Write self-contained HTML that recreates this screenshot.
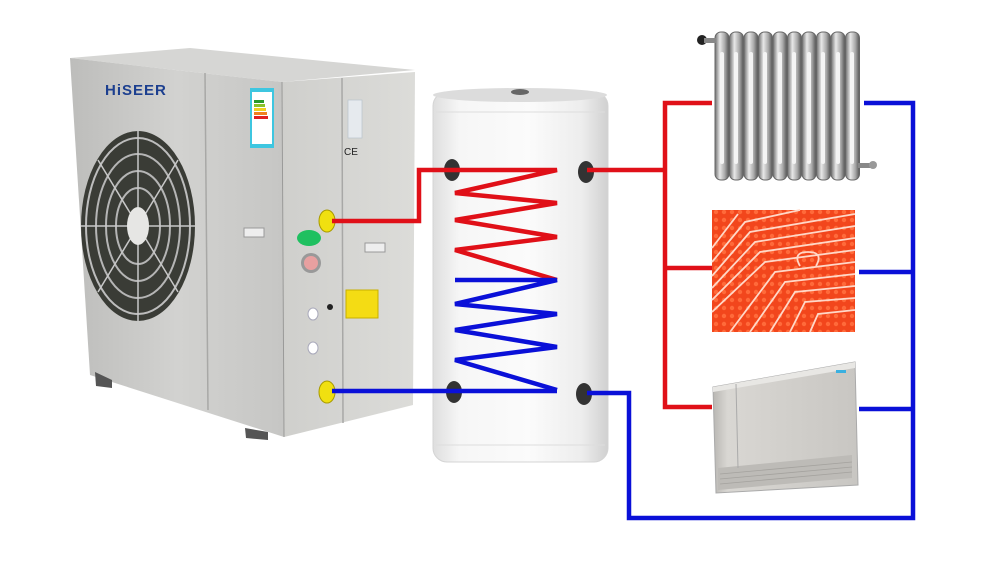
<!DOCTYPE html>
<html><head><meta charset="utf-8"><style>
html,body{margin:0;padding:0;background:#fff;width:1000px;height:570px;overflow:hidden}
svg{display:block}
</style></head><body>
<svg width="1000" height="570" viewBox="0 0 1000 570" xmlns="http://www.w3.org/2000/svg">
<defs>
<linearGradient id="front" x1="0" y1="0" x2="1" y2="0"><stop offset="0" stop-color="#bdbdbb"/><stop offset="0.5" stop-color="#d2d2d0"/><stop offset="1" stop-color="#c6c6c4"/></linearGradient>
<linearGradient id="side" x1="0" y1="0" x2="1" y2="0"><stop offset="0" stop-color="#cfcfcc"/><stop offset="1" stop-color="#dcdcd9"/></linearGradient>
<linearGradient id="tank" x1="0" y1="0" x2="1" y2="0"><stop offset="0" stop-color="#dedede"/><stop offset="0.15" stop-color="#f6f6f6"/><stop offset="0.55" stop-color="#fbfbfb"/><stop offset="0.85" stop-color="#ededed"/><stop offset="1" stop-color="#d0d0d0"/></linearGradient>
<linearGradient id="fin" x1="0" y1="0" x2="1" y2="0"><stop offset="0" stop-color="#6e6e6e"/><stop offset="0.35" stop-color="#e8e8e8"/><stop offset="0.7" stop-color="#a9a9a9"/><stop offset="1" stop-color="#555"/></linearGradient>
<linearGradient id="fc" x1="0" y1="0" x2="1" y2="0"><stop offset="0" stop-color="#b8b6b2"/><stop offset="0.1" stop-color="#d9d7d3"/><stop offset="1" stop-color="#c8c6c2"/></linearGradient>
<pattern id="floor" width="8" height="8" patternUnits="userSpaceOnUse"><rect width="8" height="8" fill="#f2461c"/><circle cx="4" cy="4" r="2.2" fill="#ff6a3a"/></pattern>
</defs>

<!-- Heat pump unit -->
<polygon points="70,58 190,48 415,70 282,82" fill="#d6d6d4"/>
<polygon points="70,58 282,82 284,437 90,375" fill="url(#front)"/>
<polygon points="282,82 415,72 413,405 284,437" fill="url(#side)"/>
<line x1="205" y1="73" x2="208" y2="410" stroke="#a8a8a6" stroke-width="1.5"/>
<line x1="342" y1="78" x2="343" y2="423" stroke="#a8a8a6" stroke-width="1.5"/>
<line x1="282" y1="82" x2="284" y2="437" stroke="#9a9a98" stroke-width="1"/>
<polygon points="95,372 112,380 112,388 96,386" fill="#555"/>
<polygon points="245,428 268,432 268,440 246,438" fill="#555"/>
<text x="105" y="95" font-family="Liberation Sans, sans-serif" font-weight="bold" font-size="15" fill="#1c3f8f" letter-spacing="1">HiSEER</text>
<rect x="250" y="88" width="24" height="60" fill="#3ec6e0"/>
<rect x="252" y="92" width="20" height="52" fill="#fff"/>
<rect x="254" y="100" width="10" height="3" fill="#2a9a2a"/><rect x="254" y="104" width="11" height="3" fill="#8ac22a"/><rect x="254" y="108" width="12" height="3" fill="#f0d020"/><rect x="254" y="112" width="13" height="3" fill="#f08020"/><rect x="254" y="116" width="14" height="3" fill="#e02020"/>
<rect x="348" y="100" width="14" height="38" fill="#e6eaee" stroke="#b8c4cc" stroke-width="0.7"/>
<text x="344" y="155" font-family="Liberation Sans, sans-serif" font-size="10" fill="#222">CE</text>
<!-- fan -->
<ellipse cx="138" cy="226" rx="57" ry="95" fill="#3a3c36"/>
<ellipse cx="138" cy="226" rx="52" ry="88" fill="none" stroke="#bdbdbd" stroke-width="2"/>
<ellipse cx="138" cy="226" rx="42" ry="72" fill="none" stroke="#b5b5b5" stroke-width="2"/>
<ellipse cx="138" cy="226" rx="32" ry="55" fill="none" stroke="#b5b5b5" stroke-width="2"/>
<ellipse cx="138" cy="226" rx="22" ry="38" fill="none" stroke="#b5b5b5" stroke-width="2"/>
<g stroke="#c8c8c8" stroke-width="1.5"><line x1="138" y1="131" x2="138" y2="321"/><line x1="81" y1="226" x2="195" y2="226"/><line x1="98" y1="160" x2="178" y2="292"/><line x1="178" y1="160" x2="98" y2="292"/></g>
<ellipse cx="138" cy="226" rx="11" ry="19" fill="#e6e6e4"/>
<rect x="244" y="228" width="20" height="9" fill="#eee" stroke="#999" stroke-width="1"/>
<rect x="365" y="243" width="20" height="9" fill="#eee" stroke="#999" stroke-width="1"/>
<!-- fittings -->
<ellipse cx="309" cy="238" rx="12" ry="8" fill="#1fc060"/>
<circle cx="311" cy="263" r="10" fill="#999"/><circle cx="311" cy="263" r="7" fill="#e8a0a0"/>
<ellipse cx="313" cy="314" rx="5" ry="6" fill="#fff" stroke="#aab" stroke-width="1"/>
<ellipse cx="313" cy="348" rx="5" ry="6" fill="#fff" stroke="#aab" stroke-width="1"/>
<circle cx="330" cy="307" r="3" fill="#222"/>
<rect x="346" y="290" width="32" height="28" fill="#f4dc14" stroke="#c8b000"/>
<ellipse cx="327" cy="221" rx="8" ry="11" fill="#f0e010" stroke="#a89a00"/>
<ellipse cx="327" cy="392" rx="8" ry="11" fill="#f0e010" stroke="#a89a00"/>

<!-- Tank -->
<rect x="433" y="92" width="175" height="370" rx="14" fill="url(#tank)" stroke="#d4d4d4"/>
<ellipse cx="520" cy="95" rx="87" ry="7" fill="#dcdcdc"/>
<ellipse cx="520" cy="92" rx="9" ry="3" fill="#666"/>
<line x1="436" y1="112" x2="605" y2="112" stroke="#ddd"/>
<line x1="436" y1="445" x2="605" y2="445" stroke="#ddd"/>
<g fill="#333"><ellipse cx="452" cy="170" rx="8" ry="11"/><ellipse cx="586" cy="172" rx="8" ry="11"/><ellipse cx="454" cy="392" rx="8" ry="11"/><ellipse cx="584" cy="394" rx="8" ry="11"/></g>

<!-- Radiator -->
<g stroke="#666" stroke-width="1">
<rect x="715" y="32" width="14" height="148" rx="6" fill="url(#fin)"/>
<rect x="729.5" y="32" width="14" height="148" rx="6" fill="url(#fin)"/>
<rect x="744" y="32" width="14" height="148" rx="6" fill="url(#fin)"/>
<rect x="758.5" y="32" width="14" height="148" rx="6" fill="url(#fin)"/>
<rect x="773" y="32" width="14" height="148" rx="6" fill="url(#fin)"/>
<rect x="787.5" y="32" width="14" height="148" rx="6" fill="url(#fin)"/>
<rect x="802" y="32" width="14" height="148" rx="6" fill="url(#fin)"/>
<rect x="816.5" y="32" width="14" height="148" rx="6" fill="url(#fin)"/>
<rect x="831" y="32" width="14" height="148" rx="6" fill="url(#fin)"/>
<rect x="845.5" y="32" width="14" height="148" rx="6" fill="url(#fin)"/>
</g>
<g fill="#f4f4f4"><rect x="720" y="52" width="4" height="112" rx="2"/><rect x="734" y="52" width="4" height="112" rx="2"/><rect x="749" y="52" width="4" height="112" rx="2"/><rect x="763" y="52" width="4" height="112" rx="2"/><rect x="778" y="52" width="4" height="112" rx="2"/><rect x="792" y="52" width="4" height="112" rx="2"/><rect x="807" y="52" width="4" height="112" rx="2"/><rect x="821" y="52" width="4" height="112" rx="2"/><rect x="836" y="52" width="4" height="112" rx="2"/><rect x="850" y="52" width="4" height="112" rx="2"/></g>
<circle cx="702" cy="40" r="5" fill="#222"/><rect x="704" y="38" width="12" height="5" fill="#888"/>
<rect x="858" y="163" width="14" height="5" fill="#888"/><circle cx="873" cy="165" r="4" fill="#999"/>

<!-- Floor heating -->
<rect x="712" y="210" width="143" height="122" fill="url(#floor)"/>
<g fill="none" stroke="#ffd8c8" stroke-width="1.8">
<path d="M712,332 L712,332 M712,300 L760,252 L855,238"/>
<path d="M712,312 L765,262 L855,250"/>
<path d="M730,332 L775,272 L855,262"/>
<path d="M750,332 L785,282 L855,274"/>
<path d="M770,332 L795,292 L855,286"/>
<path d="M712,288 L755,242 L855,226"/>
<path d="M712,276 L750,232 L855,214"/>
<path d="M712,262 L745,222 L800,210"/>
<path d="M712,248 L738,214"/>
<path d="M790,332 L805,302 L855,298"/>
<path d="M810,332 L818,314 L855,310"/>
<path d="M800,266 q-8,-14 8,-14 q16,0 8,14"/>
</g>

<!-- Fan coil -->
<polygon points="713,387 855,362 858,485 716,493" fill="url(#fc)" stroke="#aaa"/>
<polygon points="713,387 855,362 855,368 713,392" fill="#e8e7e4"/>
<polygon points="718,468 852,455 852,478 718,490" fill="#bdbbb7"/>
<g stroke="#a4a29e" stroke-width="0.8"><line x1="720" y1="474" x2="852" y2="462"/><line x1="720" y1="479" x2="852" y2="467"/><line x1="720" y1="484" x2="852" y2="472"/></g>
<line x1="736" y1="384" x2="738" y2="468" stroke="#aaa"/>
<rect x="836" y="370" width="10" height="3" fill="#3ab0e0"/>

<!-- Pipes red -->
<g fill="none" stroke="#e01018" stroke-width="4.5" stroke-linejoin="miter">
<polyline points="332,221 419,221 419,170 557,170 455,193 557,203 455,220 557,237 455,250 557,280"/>
<polyline points="587,170 665,170"/>
<polyline points="712,103 665,103 665,407 712,407"/>
<line x1="665" y1="268" x2="712" y2="268"/>
</g>
<!-- Pipes blue -->
<g fill="none" stroke="#0a10d8" stroke-width="4.5" stroke-linejoin="miter">
<polyline points="455,280 557,280 455,304 557,314 455,330 557,347 455,360 557,390"/>
<polyline points="332,391 557,391"/>
<polyline points="587,393 629,393 629,518 913,518 913,103 864,103"/>
<line x1="859" y1="272" x2="913" y2="272"/>
<line x1="859" y1="409" x2="913" y2="409"/>
</g>
</svg>
</body></html>
